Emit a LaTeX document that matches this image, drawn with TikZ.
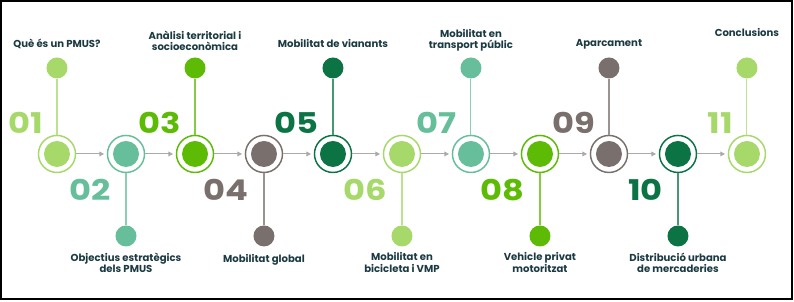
\documentclass[tikz,border=0pt]{standalone}
\usepackage{fontspec}
\setmainfont{Poppins}
\newfontfamily\stepfont[FakeStretch=1.18]{Poppins}
\definecolor{lightgreen}{RGB}{166, 217, 106}
\definecolor{tealgreen}{RGB}{102, 191, 154}
\definecolor{brightgreen}{RGB}{93, 187, 6}
\definecolor{taupe}{RGB}{121, 111, 108}
\definecolor{darkgreen}{RGB}{11, 115, 68}
\definecolor{labelteal}{RGB}{27, 58, 66}
\definecolor{arrowgray}{RGB}{170, 170, 170}
\usetikzlibrary{arrows.meta, positioning}

\begin{document}
\begin{tikzpicture}[
  ring/.style={circle, draw=#1, line width=1.1pt, minimum size=0.98cm, inner sep=0pt,
    path picture={\fill[#1] (path picture bounding box.center) circle (0.344cm);}},
  dot/.style={circle, fill=#1, minimum size=0.556cm, inner sep=0pt},
  num/.style={font=\stepfont\fontsize{21.5}{21.5}\selectfont\bfseries, text=#1, anchor=east, inner sep=0pt},
  lbl/.style={font=\fontsize{7.6}{8.4}\selectfont\bfseries, text=labelteal, align=center, inner sep=0pt},
  stem/.style={draw=#1!75, line width=0.8pt},
  flow/.style={draw=arrowgray, line width=0.8pt, -{Triangle[length=3.5pt, width=3.5pt]}, shorten >=2pt}
]
  \useasboundingbox (0,0) rectangle (21.01,7.99);
  \draw[line width=1.6pt] (0.03,0.08) rectangle (20.96,7.96);

  % main line of steps
  \node[ring=lightgreen] (c1) at (1.508, 3.916) {};
  \node[ring=tealgreen] (c2) at (3.334, 3.916) {};
  \node[ring=brightgreen] (c3) at (5.160, 3.916) {};
  \node[ring=taupe] (c4) at (6.985, 3.916) {};
  \node[ring=darkgreen] (c5) at (8.811, 3.916) {};
  \node[ring=lightgreen] (c6) at (10.637, 3.916) {};
  \node[ring=tealgreen] (c7) at (12.462, 3.916) {};
  \node[ring=brightgreen] (c8) at (14.288, 3.916) {};
  \node[ring=taupe] (c9) at (16.114, 3.916) {};
  \node[ring=darkgreen] (c10) at (17.940, 3.916) {};
  \node[ring=lightgreen] (c11) at (19.765, 3.916) {};

  \draw[flow] (c1) -- (c2);
  \draw[flow] (c2) -- (c3);
  \draw[flow] (c3) -- (c4);
  \draw[flow] (c4) -- (c5);
  \draw[flow] (c5) -- (c6);
  \draw[flow] (c6) -- (c7);
  \draw[flow] (c7) -- (c8);
  \draw[flow] (c8) -- (c9);
  \draw[flow] (c9) -- (c10);
  \draw[flow] (c10) -- (c11);

  % dots above and below
  \node[dot=lightgreen] (d1) at (1.508, 6.191) {};
  \node[dot=tealgreen] (d2) at (3.334, 1.746) {};
  \node[dot=brightgreen] (d3) at (5.160, 6.191) {};
  \node[dot=taupe] (d4) at (6.985, 1.746) {};
  \node[dot=darkgreen] (d5) at (8.811, 6.191) {};
  \node[dot=lightgreen] (d6) at (10.637, 1.746) {};
  \node[dot=tealgreen] (d7) at (12.462, 6.191) {};
  \node[dot=brightgreen] (d8) at (14.288, 1.746) {};
  \node[dot=taupe] (d9) at (16.114, 6.191) {};
  \node[dot=darkgreen] (d10) at (17.940, 1.746) {};
  \node[dot=lightgreen] (d11) at (19.765, 6.191) {};

  \draw[stem=lightgreen] (c1) -- (d1);
  \draw[stem=tealgreen] (c2) -- (d2);
  \draw[stem=brightgreen] (c3) -- (d3);
  \draw[stem=taupe] (c4) -- (d4);
  \draw[stem=darkgreen] (c5) -- (d5);
  \draw[stem=lightgreen] (c6) -- (d6);
  \draw[stem=tealgreen] (c7) -- (d7);
  \draw[stem=brightgreen] (c8) -- (d8);
  \draw[stem=taupe] (c9) -- (d9);
  \draw[stem=darkgreen] (c10) -- (d10);
  \draw[stem=lightgreen] (c11) -- (d11);

  % numbers
  \node[num=lightgreen] (n1) at (1.138, 4.736) {01};
  \node[num=tealgreen] (n2) at (2.937, 2.963) {02};
  \node[num=brightgreen] (n3) at (4.790, 4.736) {03};
  \node[num=taupe] (n4) at (6.588, 2.963) {04};
  \node[num=darkgreen] (n5) at (8.441, 4.736) {05};
  \node[num=lightgreen] (n6) at (10.240, 2.963) {06};
  \node[num=tealgreen] (n7) at (12.092, 4.736) {07};
  \node[num=brightgreen] (n8) at (13.891, 2.963) {08};
  \node[num=taupe] (n9) at (15.744, 4.736) {09};
  \node[num=darkgreen] (n10) at (17.543, 2.963) {10};
  \node[num=lightgreen] (n11) at (19.395, 4.736) {11};

  % labels
  \node[lbl] (t1) at (1.508, 6.826) {Què és un PMUS?};
  \node[lbl] (t2) at (3.334, 1.045) {Objectius estratègics\\dels PMUS};
  \node[lbl] (t3) at (5.160, 6.906) {Anàlisi territorial i\\socioeconòmica};
  \node[lbl] (t4) at (6.985, 1.111) {Mobilitat global};
  \node[lbl] (t5) at (8.811, 6.826) {Mobilitat de vianants};
  \node[lbl] (t6) at (10.637, 1.045) {Mobilitat en\\bicicleta i VMP};
  \node[lbl] (t7) at (12.462, 6.932) {Mobilitat en\\transport públic};
  \node[lbl] (t8) at (14.288, 1.045) {Vehicle privat\\motoritzat};
  \node[lbl] (t9) at (16.114, 6.826) {Aparcament};
  \node[lbl] (t10) at (17.940, 1.045) {Distribució urbana\\de mercaderies};
  \node[lbl] (t11) at (19.765, 7.117) {Conclusions};
\end{tikzpicture}
\end{document}
